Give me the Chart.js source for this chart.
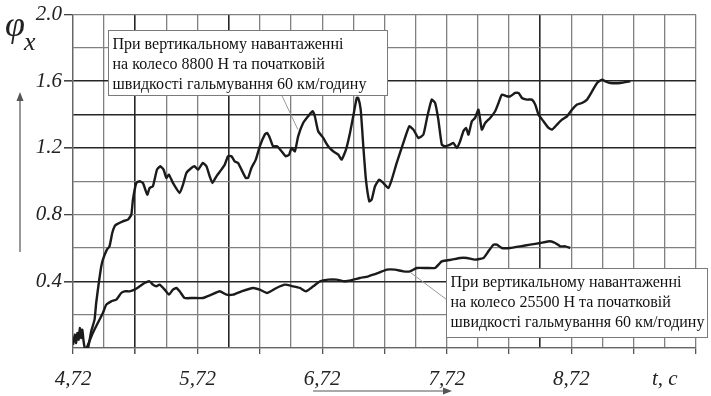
<!DOCTYPE html>
<html>
<head>
<meta charset="utf-8">
<style>
  html, body { margin: 0; padding: 0; background: #fff; }
  canvas { display: block; }
</style>
<script src="https://cdn.jsdelivr.net/npm/chart.js@4.4.1/dist/chart.umd.min.js"></script>
</head>
<body>
<canvas id="chart" width="711" height="396"></canvas>
<script>
// Braking test: friction coefficient φx versus time t, s

// Wheel load 8800 N, initial braking speed 60 km/h
const timeA = [
  4.72, 4.735, 4.745, 4.755, 4.765, 4.775, 4.785, 4.795, 4.805, 4.815,
  4.84, 4.866, 4.893, 4.906, 4.927, 4.947, 4.96, 4.992, 5.013, 5.035,
  5.054, 5.067, 5.12, 5.161, 5.188, 5.201, 5.228, 5.255, 5.281, 5.316,
  5.335, 5.361, 5.394, 5.421, 5.447, 5.469, 5.49, 5.522, 5.576, 5.603,
  5.63, 5.67, 5.697, 5.723, 5.763, 5.791, 5.817, 5.839, 5.871, 5.911,
  5.938, 5.964, 5.992, 6.018, 6.045, 6.072, 6.107, 6.125, 6.152, 6.187,
  6.219, 6.259, 6.278, 6.3, 6.326, 6.358, 6.394, 6.428, 6.455, 6.474,
  6.501, 6.527, 6.567, 6.607, 6.643, 6.661, 6.688, 6.728, 6.768, 6.808,
  6.849, 6.876, 6.911, 6.943, 6.969, 6.997, 7.009, 7.029, 7.05, 7.071,
  7.098, 7.117, 7.144, 7.178, 7.21, 7.251, 7.278, 7.318, 7.371, 7.419,
  7.452, 7.492, 7.532, 7.564, 7.599, 7.626, 7.652, 7.68, 7.706, 7.747,
  7.773, 7.8, 7.827, 7.853, 7.875, 7.894, 7.921, 7.947, 7.974, 8.001,
  8.028, 8.068, 8.108, 8.135, 8.162, 8.202, 8.229, 8.269, 8.296, 8.323,
  8.363, 8.403, 8.43, 8.456, 8.496, 8.537, 8.564, 8.604, 8.644, 8.685,
  8.725, 8.765, 8.805, 8.845, 8.886, 8.926, 8.966, 8.993, 9.033, 9.113,
  9.193
];
const phiA = [
  0.02, 0.08, 0.03, 0.09, 0.05, 0.12, 0.06, 0.11, 0.04, 0.00,
  0.00, 0.10, 0.17, 0.27, 0.39, 0.49, 0.53, 0.59, 0.61, 0.69,
  0.73, 0.74, 0.76, 0.77, 0.80, 0.89, 0.99, 1.00, 0.99, 0.92,
  0.96, 0.97, 1.07, 1.09, 1.07, 1.02, 1.04, 0.99, 0.93, 0.98,
  1.05, 1.08, 1.09, 1.07, 1.11, 1.09, 1.03, 0.99, 1.03, 1.07,
  1.10, 1.15, 1.15, 1.12, 1.11, 1.07, 1.02, 1.02, 1.08, 1.13,
  1.21, 1.28, 1.29, 1.26, 1.21, 1.21, 1.18, 1.15, 1.16, 1.20,
  1.18, 1.27, 1.35, 1.39, 1.42, 1.39, 1.30, 1.26, 1.21, 1.18,
  1.16, 1.13, 1.19, 1.29, 1.39, 1.50, 1.50, 1.43, 1.21, 1.01,
  0.88, 0.89, 0.97, 1.01, 0.99, 0.96, 1.01, 1.11, 1.23, 1.33,
  1.31, 1.26, 1.28, 1.39, 1.49, 1.47, 1.37, 1.22, 1.21, 1.22,
  1.23, 1.20, 1.24, 1.30, 1.32, 1.28, 1.36, 1.38, 1.43, 1.31,
  1.35, 1.38, 1.42, 1.47, 1.52, 1.51, 1.51, 1.53, 1.53, 1.50,
  1.49, 1.49, 1.46, 1.40, 1.36, 1.32, 1.31, 1.34, 1.37, 1.39,
  1.43, 1.46, 1.47, 1.49, 1.54, 1.59, 1.61, 1.60, 1.59, 1.59,
  1.60
];

// Wheel load 25500 N, initial braking speed 60 km/h
const timeB = [
  4.83, 4.879, 4.919, 4.96, 4.987, 5.027, 5.067, 5.107, 5.134, 5.174,
  5.214, 5.255, 5.294, 5.335, 5.361, 5.389, 5.415, 5.456, 5.49, 5.522,
  5.55, 5.576, 5.616, 5.683, 5.763, 5.831, 5.898, 5.952, 6.005, 6.072,
  6.165, 6.219, 6.278, 6.353, 6.42, 6.487, 6.541, 6.589, 6.648, 6.702,
  6.768, 6.836, 6.902, 6.969, 7.023, 7.09, 7.17, 7.238, 7.304, 7.371,
  7.425, 7.479, 7.559, 7.626, 7.68, 7.76, 7.827, 7.881, 7.947, 8.014,
  8.054, 8.095, 8.122, 8.162, 8.229, 8.309, 8.389, 8.47, 8.55, 8.59,
  8.631, 8.671, 8.711
];
const phiB = [
  0.00, 0.09, 0.15, 0.21, 0.26, 0.28, 0.29, 0.33, 0.34, 0.34,
  0.35, 0.37, 0.39, 0.40, 0.38, 0.37, 0.38, 0.35, 0.32, 0.35,
  0.36, 0.34, 0.30, 0.30, 0.30, 0.32, 0.34, 0.32, 0.32, 0.34,
  0.36, 0.35, 0.33, 0.36, 0.38, 0.37, 0.36, 0.34, 0.37, 0.40,
  0.41, 0.41, 0.40, 0.41, 0.42, 0.43, 0.45, 0.47, 0.47, 0.46,
  0.46, 0.48, 0.48, 0.48, 0.52, 0.53, 0.54, 0.54, 0.53, 0.54,
  0.58, 0.62, 0.62, 0.60, 0.60, 0.61, 0.62, 0.63, 0.64, 0.63,
  0.61, 0.61, 0.60
];

// Axis ranges and labelling
const tStart = 4.72, tEnd = 9.72, tGridStep = 0.25;
const xLabelTimes = [4.72, 5.72, 6.72, 7.72, 8.72];
const xAxisName = 't, c';
const xAxisNameAt = 9.47;
const phiMin = 0, phiMax = 2.0, phiGridStep = 0.2;
const yLabelValues = [0.4, 0.8, 1.2, 1.6, 2.0];

// Heavier grid lines
const xBoldLines = [5.22, 5.97, 8.47];
const yBoldLines = [0.4, 1.2, 1.4, 1.6];

const noteA = ['При вертикальному навантаженні', 'на колесо 8800 Н та початковій', 'швидкості гальмування 60 км/годину'];
const noteB = ['При вертикальному навантаженні', 'на колесо 25500 Н та початковій', 'швидкості гальмування 60 км/годину'];

const SERIF = "'Liberation Serif', 'Times New Roman', serif";
const near = (list, v) => list.some(d => Math.abs(d - v) < 1e-6);
const round2 = v => Math.round(v * 100) / 100;

const xGrid = [];
for (let v = tStart; v <= tEnd + 1e-9; v += tGridStep) xGrid.push(round2(v));
const yGrid = [];
for (let v = phiMin; v <= phiMax + 1e-9; v += phiGridStep) yGrid.push(round2(v));

const GRID_LIGHT = '#808080';
const GRID_DARK = '#262626';

// Callout boxes with leader lines, the φx axis name and the direction arrows
const decorations = {
  id: 'decorations',
  afterDatasetsDraw(chart) {
    const { ctx, scales: { x, y } } = chart;
    const px = t => x.getPixelForValue(t);
    const py = p => y.getPixelForValue(p);

    function leader(t0, p0, t1, p1) {
      ctx.save();
      ctx.strokeStyle = '#9a9a9a';
      ctx.lineWidth = 1;
      ctx.beginPath();
      ctx.moveTo(px(t0), py(p0));
      ctx.lineTo(px(t1), py(p1));
      ctx.stroke();
      ctx.restore();
    }

    function note(lines, t0, p0, t1, p1) {
      const l = Math.round(px(t0)) + 0.5, tp = Math.round(py(p0)) + 0.5;
      const r = Math.round(px(t1)) + 0.5, b = Math.round(py(p1)) + 0.5;
      ctx.save();
      ctx.fillStyle = '#fff';
      ctx.fillRect(l, tp, r - l, b - tp);
      ctx.strokeStyle = '#7a7a7a';
      ctx.lineWidth = 1;
      ctx.strokeRect(l, tp, r - l, b - tp);
      ctx.fillStyle = '#111';
      ctx.font = '16px ' + SERIF;
      ctx.textAlign = 'left';
      ctx.textBaseline = 'middle';
      lines.forEach((s, i) => ctx.fillText(s, l + 4, tp + 14 + i * 20));
      ctx.restore();
    }

    leader(6.396, 1.515, 6.525, 1.31);
    note(noteA, 5.0, 1.91, 7.24, 1.52);
    leader(7.714, 0.293, 7.425, 0.455);
    note(noteB, 7.714, 0.479, 9.81, 0.066);
  },
  afterDraw(chart) {
    const { ctx } = chart;
    ctx.save();
    ctx.fillStyle = '#222';
    ctx.textBaseline = 'alphabetic';
    ctx.textAlign = 'left';
    ctx.font = 'italic 36px ' + SERIF;
    ctx.fillText('φ', 5, 36);
    ctx.font = 'italic 26px ' + SERIF;
    ctx.fillText('x', 24, 50);

    ctx.strokeStyle = '#555';
    ctx.fillStyle = '#555';
    ctx.lineWidth = 1.2;
    // vertical arrow
    ctx.beginPath();
    ctx.moveTo(20, 252);
    ctx.lineTo(20, 98);
    ctx.stroke();
    ctx.beginPath();
    ctx.moveTo(20, 92);
    ctx.lineTo(16.5, 101);
    ctx.lineTo(23.5, 101);
    ctx.closePath();
    ctx.fill();
    // horizontal arrow
    ctx.beginPath();
    ctx.moveTo(313, 391);
    ctx.lineTo(446, 391);
    ctx.stroke();
    ctx.beginPath();
    ctx.moveTo(452, 391);
    ctx.lineTo(443, 387.5);
    ctx.lineTo(443, 394.5);
    ctx.closePath();
    ctx.fill();
    ctx.restore();
  }
};

const curveStyle = {
  borderColor: '#1b1b1b',
  borderWidth: 2.4,
  pointRadius: 0,
  tension: 0.15,
  fill: false
};

new Chart(document.getElementById('chart'), {
  type: 'line',
  data: {
    datasets: [
      Object.assign({ label: '8800 Н', data: timeA.map((t, i) => ({ x: t, y: phiA[i] })) }, curveStyle),
      Object.assign({ label: '25500 Н', data: timeB.map((t, i) => ({ x: t, y: phiB[i] })) }, curveStyle)
    ]
  },
  options: {
    responsive: false,
    animation: false,
    devicePixelRatio: 1,
    layout: { padding: { left: 0, top: 14, right: 15, bottom: 0 } },
    plugins: { legend: { display: false }, tooltip: { enabled: false } },
    scales: {
      x: {
        type: 'linear',
        min: tStart,
        max: tEnd,
        afterBuildTicks: s => { s.ticks = xGrid.map(v => ({ value: v })); },
        afterFit: s => { s.height = 48; },
        ticks: {
          autoSkip: false,
          maxRotation: 0,
          padding: 13,
          color: '#222',
          font: { family: SERIF, size: 21, style: 'italic' },
          callback: v => {
            if (near(xLabelTimes, v)) return v.toFixed(2).replace('.', ',');
            if (near([xAxisNameAt], v)) return xAxisName;
            return '';
          }
        },
        grid: {
          drawTicks: true,
          tickLength: 6,
          color: c => near(xBoldLines, c.tick.value) ? GRID_DARK : GRID_LIGHT,
          lineWidth: c => near(xBoldLines, c.tick.value) ? 1.6 : 1.3,
          tickColor: c => (Math.round((c.tick.value - tStart) / tGridStep) % 2 === 0) ? '#555' : 'rgba(0,0,0,0)'
        },
        border: { display: true, color: '#666', width: 1.3 }
      },
      y: {
        type: 'linear',
        min: phiMin,
        max: phiMax,
        afterBuildTicks: s => { s.ticks = yGrid.map(v => ({ value: v })); },
        afterFit: s => { s.width = 73; },
        ticks: {
          autoSkip: false,
          padding: 2,
          color: '#222',
          font: { family: SERIF, size: 21, style: 'italic' },
          callback: v => near(yLabelValues, v) ? v.toFixed(1) : ''
        },
        grid: {
          drawTicks: true,
          tickLength: 9,
          color: c => near(yBoldLines, c.tick.value) ? GRID_DARK : GRID_LIGHT,
          lineWidth: c => near(yBoldLines, c.tick.value) ? 1.6 : 1.3,
          tickColor: c => near(yLabelValues, c.tick.value) ? '#444' : 'rgba(0,0,0,0)'
        },
        border: { display: true, color: '#666', width: 1.3 }
      }
    }
  },
  plugins: [decorations]
});
</script>
</body>
</html>
